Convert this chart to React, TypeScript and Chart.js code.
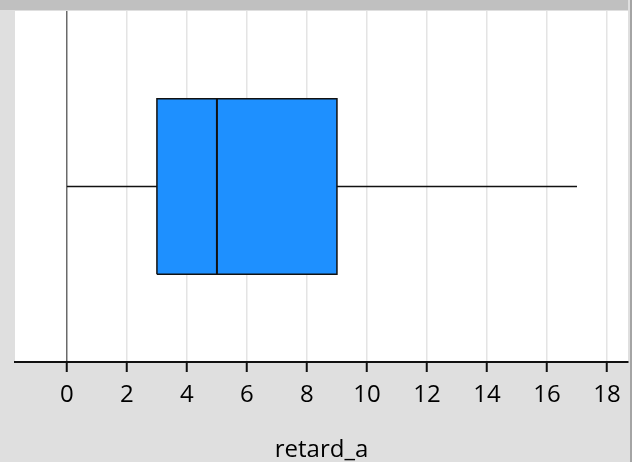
import React, { useEffect, useRef } from "react";
import { Chart, registerables } from "chart.js";

Chart.register(...registerables);

// ---- data ----
const variableNames = ["retard_a"];
const minValues = [0];
const q1Values = [3];
const medianValues = [5];
const q3Values = [9];
const maxValues = [17];
const tickValues = [0, 2, 4, 6, 8, 10, 12, 14, 16, 18];

const X_MIN = -1.73;
const X_MAX = 18.7;
const BOX_HALF = 0.5;
const FONT = "'Open Sans', 'Noto Sans', sans-serif";

const backgroundPlugin = {
  id: "bgPlugin",
  beforeDraw(chart: any) {
    const { ctx, chartArea, width, height } = chart;
    ctx.save();
    ctx.fillStyle = "#dfdfdf";
    ctx.fillRect(0, 0, width, height);
    ctx.fillStyle = "#ffffff";
    ctx.fillRect(chartArea.left, chartArea.top, chartArea.right - chartArea.left, chartArea.bottom - chartArea.top);
    ctx.fillStyle = "#c0c0c0";
    ctx.fillRect(0, 0, width - 4, 10);
    ctx.fillStyle = "#a4a4a4";
    ctx.fillRect(width - 2, 0, 2, height);
    ctx.restore();
  },
};

export default function App() {
  const canvasRef = useRef<HTMLCanvasElement | null>(null);

  useEffect(() => {
    const canvas = canvasRef.current;
    if (!canvas) return;
    const i = 0;
    const h = BOX_HALF;
    const datasets: any[] = [
      {
        label: variableNames[i] + " box",
        order: 10,
        data: [
          { x: q1Values[i], y: -h },
          { x: q3Values[i], y: -h },
          { x: q3Values[i], y: h },
          { x: q1Values[i], y: h },
          { x: q1Values[i], y: -h },
        ],
        showLine: true,
        fill: "shape",
        backgroundColor: "#1e90ff",
        borderColor: "#111111",
        borderWidth: 1.5,
        pointRadius: 0,
        tension: 0,
      },
      {
        label: variableNames[i] + " median",
        order: 1,
        data: [
          { x: medianValues[i], y: -h },
          { x: medianValues[i], y: h },
        ],
        showLine: true,
        borderColor: "#111111",
        borderWidth: 2,
        pointRadius: 0,
      },
      {
        label: variableNames[i] + " lower whisker",
        order: 1,
        data: [
          { x: minValues[i], y: 0 },
          { x: q1Values[i], y: 0 },
        ],
        showLine: true,
        borderColor: "#111111",
        borderWidth: 1.5,
        pointRadius: 0,
      },
      {
        label: variableNames[i] + " upper whisker",
        order: 1,
        data: [
          { x: q3Values[i], y: 0 },
          { x: maxValues[i], y: 0 },
        ],
        showLine: true,
        borderColor: "#111111",
        borderWidth: 1.5,
        pointRadius: 0,
      },
    ];

    const chart = new Chart(canvas, {
      type: "scatter",
      data: { datasets },
      plugins: [backgroundPlugin],
      options: {
        responsive: false,
        animation: false,
        layout: { padding: { top: 11, left: 15, right: 4, bottom: 0 } },
        plugins: {
          legend: { display: false },
          tooltip: { enabled: false },
          title: { display: false },
        },
        scales: {
          x: {
            type: "linear",
            min: X_MIN,
            max: X_MAX,
            afterBuildTicks: (scale: any) => {
              scale.ticks = tickValues.map((v) => ({ value: v }));
            },
            afterFit: (scale: any) => {
              scale.height = 100;
            },
            grid: {
              color: (c: any) => (c.tick && c.tick.value === 0 ? "#6a6a6a" : "#e4e4e4"),
              lineWidth: 1.5,
              drawTicks: true,
              tickLength: 10,
              tickColor: "#111111",
              tickWidth: 2,
            },
            border: { display: true, color: "#111111", width: 2 },
            ticks: {
              color: "#000000",
              font: { family: FONT, size: 24, weight: "500" },
              padding: 9,
              maxRotation: 0,
              autoSkip: false,
            },
            title: {
              display: true,
              text: variableNames[0],
              color: "#000000",
              font: { family: FONT, size: 24, lineHeight: 1.0 },
              padding: { top: 0, bottom: 0 },
            },
          },
          y: {
            type: "linear",
            display: false,
            min: -1,
            max: 1,
          },
        },
      },
    });
    return () => chart.destroy();
  }, []);

  return (
    <div style={{ position: "absolute", left: 0, top: 0, width: 632, height: 462 }}>
      <canvas ref={canvasRef} width={632} height={462} style={{ display: "block" }} />
    </div>
  );
}
